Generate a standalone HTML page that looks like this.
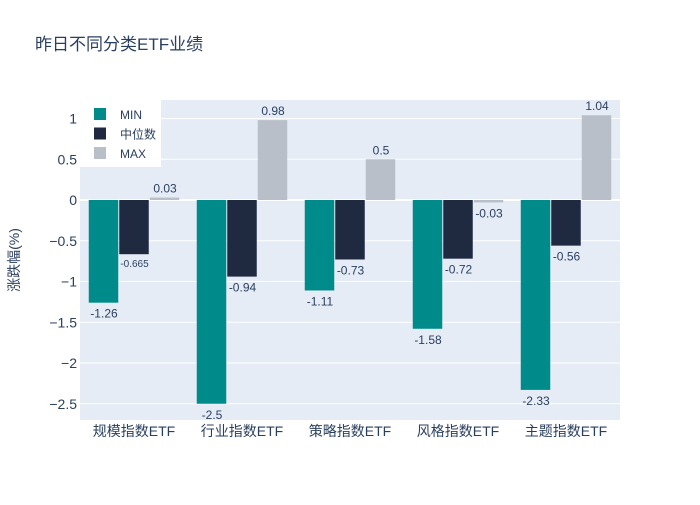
<!DOCTYPE html>
<html><head><meta charset="utf-8"><style>
body{margin:0;background:#fff;}
svg text{font-family:"Liberation Sans","Noto Sans CJK SC",sans-serif;fill:#2a3f5f;}
</style></head><body>
<svg id="c" width="700" height="500"></svg>
<script>
const categories=["规模指数ETF","行业指数ETF","策略指数ETF","风格指数ETF","主题指数ETF"];
const minVals=[-1.26,-2.5,-1.11,-1.58,-2.33];
const medVals=[-0.665,-0.94,-0.73,-0.72,-0.56];
const maxVals=[0.03,0.98,0.5,-0.03,1.04];
const minLabels=["-1.26","-2.5","-1.11","-1.58","-2.33"];
const medLabels=["-0.665","-0.94","-0.73","-0.72","-0.56"];
const maxLabels=["0.03","0.98","0.5","-0.03","1.04"];
const yTicks=[1,0.5,0,-0.5,-1,-1.5,-2,-2.5];
const yTickLabels=["1","0.5","0","−0.5","−1","−1.5","−2","−2.5"];

const NS="http://www.w3.org/2000/svg";
const svg=document.getElementById('c');
const L=80,R=620,T=100,B=420;
const y=v=>200-81.5*v;
const bw=(R-L)/categories.length;
const x=i=>L+bw*(i+0.5);
function mk(tag,attrs,parent){const e=document.createElementNS(NS,tag);for(const k in attrs)e.setAttribute(k,attrs[k]);(parent||svg).appendChild(e);return e;}

const title=mk('text',{x:35,y:50,'font-size':17});
title.textContent="昨日不同分类ETF业绩";



const bg=mk('rect',{x:L,y:T,width:R-L,height:B-T,fill:'#e5ecf6'});



yTicks.forEach((t,i)=>{
  const g=mk('line',{x1:L,x2:R,y1:y(t),y2:y(t),stroke:'#fff','stroke-width':t===0?2:1});
  
  
  const tl=mk('text',{x:L-3,y:y(t)+5,'text-anchor':'end','font-size':14});
  tl.textContent=yTickLabels[i];
  
  
});
const yt=mk('text',{transform:'translate(19,260) rotate(-90)','text-anchor':'middle','font-size':14});
yt.textContent="涨跌幅(%)";



const series=[[minVals,minLabels,'#008b8b','min'],[medVals,medLabels,'#1f2a40','median'],[maxVals,maxLabels,'#b8bfc8','max']];
const w=30.5;
categories.forEach((c,i)=>{
  series.forEach((s,j)=>{
    const v=s[0][i];
    const x0=x(i)-1.5*w+j*w+0.5;
    const r=mk('rect',{x:x0,y:Math.min(y(v),y(0)),width:w-1,height:Math.abs(y(v)-y(0)),fill:s[2]});
    
    
    const small=s[1][i].length>5;
    const lt=mk('text',{x:x0+w/2,y:v>=0?y(v)-5:y(v)+(small?13:15),'text-anchor':'middle','font-size':small?10:12});
    lt.textContent=s[1][i];
    
    
  });
  const cl=mk('text',{x:x(i),y:436,'text-anchor':'middle','font-size':14});
  cl.textContent=c;
  
  
});

const lg=mk('g',{});


mk('rect',{x:80,y:98,width:81,height:69,fill:'#fff'},lg);
const names=["MIN","中位数","MAX"];
series.forEach((s,j)=>{
  const sw=mk('rect',{x:94,y:108+j*19.5,width:12,height:12,fill:s[2]},lg);
  
  
  const t=mk('text',{x:120,y:119+j*19.5,'font-size':12},lg);
  t.textContent=names[j];
  
  
});
</script>
</body></html>
